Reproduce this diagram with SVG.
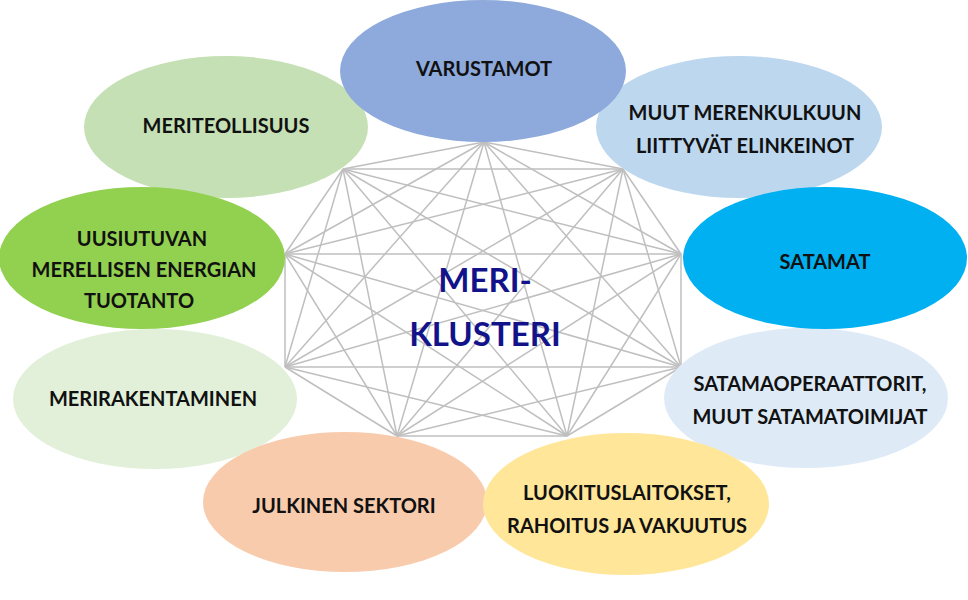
<svg xmlns="http://www.w3.org/2000/svg" width="968" height="600" viewBox="0 0 968 600">
  <style>
    .conn line { stroke: #BFBFBF; stroke-width: 1.5; fill: none; }
    .lbl { font-family: Lato, "Open Sans", "Liberation Sans", sans-serif; font-weight: 700; font-size: 20px; fill: #111111; text-anchor: middle; }
    .center { font-family: Lato, "Open Sans", "Liberation Sans", sans-serif; font-weight: 700; font-size: 33px; fill: #12128A; text-anchor: middle; }
  </style>
  <rect width="968" height="600" fill="#FFFFFF"/>
  <g id="connectors" class="conn">
    <line x1="484" y1="142" x2="343" y2="169"/>
    <line x1="484" y1="142" x2="623" y2="169"/>
    <line x1="484" y1="142" x2="285" y2="254"/>
    <line x1="484" y1="142" x2="681" y2="254"/>
    <line x1="484" y1="142" x2="285" y2="367"/>
    <line x1="484" y1="142" x2="681" y2="367"/>
    <line x1="484" y1="142" x2="397" y2="436"/>
    <line x1="484" y1="142" x2="567" y2="436"/>
    <line x1="343" y1="169" x2="623" y2="169"/>
    <line x1="343" y1="169" x2="285" y2="254"/>
    <line x1="343" y1="169" x2="681" y2="254"/>
    <line x1="343" y1="169" x2="285" y2="367"/>
    <line x1="343" y1="169" x2="681" y2="367"/>
    <line x1="343" y1="169" x2="397" y2="436"/>
    <line x1="343" y1="169" x2="567" y2="436"/>
    <line x1="623" y1="169" x2="285" y2="254"/>
    <line x1="623" y1="169" x2="681" y2="254"/>
    <line x1="623" y1="169" x2="285" y2="367"/>
    <line x1="623" y1="169" x2="681" y2="367"/>
    <line x1="623" y1="169" x2="397" y2="436"/>
    <line x1="623" y1="169" x2="567" y2="436"/>
    <line x1="285" y1="254" x2="681" y2="254"/>
    <line x1="285" y1="254" x2="285" y2="367"/>
    <line x1="285" y1="254" x2="681" y2="367"/>
    <line x1="285" y1="254" x2="397" y2="436"/>
    <line x1="285" y1="254" x2="567" y2="436"/>
    <line x1="681" y1="254" x2="285" y2="367"/>
    <line x1="681" y1="254" x2="681" y2="367"/>
    <line x1="681" y1="254" x2="397" y2="436"/>
    <line x1="681" y1="254" x2="567" y2="436"/>
    <line x1="285" y1="367" x2="681" y2="367"/>
    <line x1="285" y1="367" x2="397" y2="436"/>
    <line x1="285" y1="367" x2="567" y2="436"/>
    <line x1="681" y1="367" x2="397" y2="436"/>
    <line x1="681" y1="367" x2="567" y2="436"/>
    <line x1="397" y1="436" x2="567" y2="436"/>
  </g>
  <g id="node-meriteollisuus">
    <ellipse cx="226" cy="127" rx="142" ry="71" fill="#C5E0B4"/>
    <text class="lbl" x="226" y="133">MERITEOLLISUUS</text>
  </g>
  <g id="node-muut-merenkulku">
    <ellipse cx="739" cy="127" rx="143" ry="71" fill="#BDD7EE"/>
    <text class="lbl" x="745" y="120">MUUT MERENKULKUUN</text>
    <text class="lbl" x="745" y="153">LIITTYVÄT ELINKEINOT</text>
  </g>
  <g id="node-varustamot">
    <ellipse cx="483" cy="71" rx="143" ry="71" fill="#8EA9DB"/>
    <text class="lbl" x="484" y="76">VARUSTAMOT</text>
  </g>
  <g id="node-merirakentaminen">
    <ellipse cx="155" cy="399" rx="142" ry="70" fill="#E2F0D9"/>
    <text class="lbl" x="153" y="406">MERIRAKENTAMINEN</text>
  </g>
  <g id="node-uusiutuvan">
    <ellipse cx="142" cy="258" rx="143" ry="71" fill="#92D050"/>
    <text class="lbl" x="142" y="246">UUSIUTUVAN</text>
    <text class="lbl" x="144" y="277">MERELLISEN ENERGIAN</text>
    <text class="lbl" x="139" y="308">TUOTANTO</text>
  </g>
  <g id="node-satamaoperaattorit">
    <ellipse cx="806" cy="398" rx="142" ry="70" fill="#DEEBF7"/>
    <text class="lbl" x="810" y="391">SATAMAOPERAATTORIT,</text>
    <text class="lbl" x="810" y="424">MUUT SATAMATOIMIJAT</text>
  </g>
  <g id="node-satamat">
    <ellipse cx="825" cy="258" rx="142" ry="71" fill="#00B0F0"/>
    <text class="lbl" x="825" y="269">SATAMAT</text>
  </g>
  <g id="node-julkinen">
    <ellipse cx="345" cy="502" rx="142" ry="70" fill="#F8CBAD"/>
    <text class="lbl" x="344" y="513">JULKINEN SEKTORI</text>
  </g>
  <g id="node-luokitus">
    <ellipse cx="626" cy="504" rx="143" ry="71" fill="#FFE699"/>
    <text class="lbl" x="627" y="500">LUOKITUSLAITOKSET,</text>
    <text class="lbl" x="627" y="533">RAHOITUS JA VAKUUTUS</text>
  </g>
  <g id="center-label">
    <text class="center" x="485" y="292">MERI-</text>
    <text class="center" x="485" y="346">KLUSTERI</text>
  </g>
</svg>
